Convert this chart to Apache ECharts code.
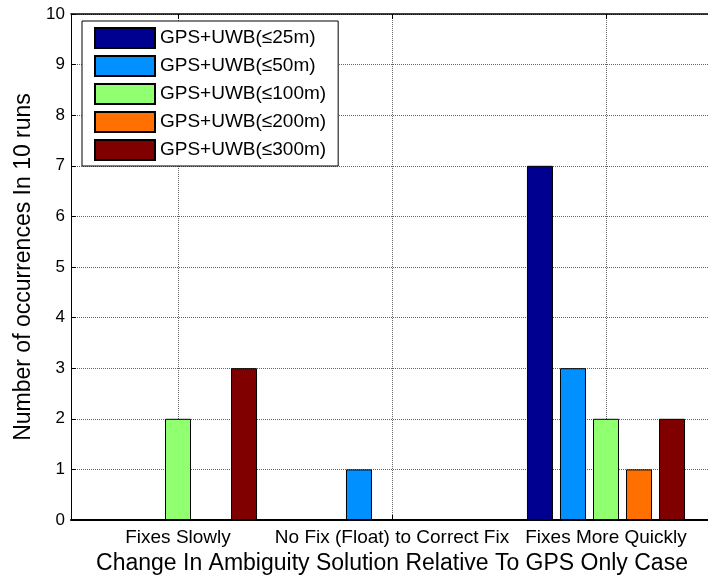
<!DOCTYPE html>
<html>
<head>
<meta charset="utf-8">
<script src="https://cdn.jsdelivr.net/npm/echarts@6/dist/echarts.min.js"></script>
<style>html,body{margin:0;padding:0;background:#fff;}#c{width:708px;height:581px;}</style>
</head>
<body>
<div id="c"></div>
<script>
const categories = ['Fixes Slowly', 'No Fix (Float) to Correct Fix', 'Fixes More Quickly'];
const seriesNames = ['GPS+UWB(≤25m)', 'GPS+UWB(≤50m)', 'GPS+UWB(≤100m)', 'GPS+UWB(≤200m)', 'GPS+UWB(≤300m)'];
const seriesColors = ['#000090', '#0090FF', '#90FF70', '#FF7000', '#800000'];
const v25 = [0, 0, 7];
const v50 = [0, 1, 3];
const v100 = [2, 0, 2];
const v200 = [0, 0, 1];
const v300 = [3, 0, 2];
const yTicks = [0,1,2,3,4,5,6,7,8,9,10];
const xTitle = 'Change In Ambiguity Solution Relative To GPS Only Case';
const yTitle = 'Number of occurrences In 10 runs';

const values = [v25, v50, v100, v200, v300];
const font = 'Liberation Sans, Arial, Helvetica, sans-serif';
const gridCats = ['', 'a', '', 'b', '', 'c', ''];

const chart = echarts.init(document.getElementById('c'), null, {renderer: 'canvas'});
chart.setOption({
  animation: false,
  backgroundColor: '#fff',
  grid: {left: 71, top: 14, width: 642, height: 506, containLabel: false, outerBoundsMode: 'none'},
  legend: {
    orient: 'vertical', left: 82, top: 21,
    padding: [6, 12, 5, 12],
    itemWidth: 60, itemHeight: 20, itemGap: 6,
    backgroundColor: '#fff', borderColor: '#000', borderWidth: 1,
    icon: 'rect',
    textStyle: {fontFamily: font, fontSize: 19, lineHeight: 20, color: '#000'},
    data: seriesNames
  },
  xAxis: [
    {
      type: 'category', data: categories, position: 'bottom',
      axisLine: {show: true, lineStyle: {color: '#000', width: 2}},
      axisTick: {show: true, inside: true, alignWithLabel: true, length: 5, lineStyle: {color: '#000'}},
      axisLabel: {interval: 0, fontFamily: font, fontSize: 19, color: '#000', margin: 8},
      splitLine: {show: false},
      name: xTitle, nameLocation: 'middle', nameGap: 31,
      nameTextStyle: {fontFamily: font, fontSize: 23, color: '#000'}
    },
    {
      type: 'category', data: categories, position: 'top',
      axisLine: {show: true, lineStyle: {color: '#000', width: 1.5}},
      axisTick: {show: true, inside: true, alignWithLabel: true, length: 5, lineStyle: {color: '#000'}},
      axisLabel: {show: false}, splitLine: {show: false}
    },
    {
      type: 'category', data: gridCats, position: 'bottom', boundaryGap: false,
      axisLine: {show: false}, axisTick: {show: false}, axisLabel: {show: false},
      splitLine: {show: true, interval: function (i) { return i % 2 === 1; },
        lineStyle: {color: '#666', width: 1, type: [1, 1]}}
    }
  ],
  yAxis: {
    type: 'value', min: 0, max: 10, interval: 1,
    axisLine: {show: true, lineStyle: {color: '#000', width: 1}},
    axisTick: {show: true, inside: true, length: 5, lineStyle: {color: '#000'}},
    axisLabel: {fontFamily: font, fontSize: 17, color: '#000', margin: 6,
      formatter: function (v) { return yTicks.indexOf(v) >= 0 ? String(v) : ''; }},
    splitLine: {show: true, lineStyle: {color: '#666', width: 1, type: [1, 1]}},
    name: yTitle, nameLocation: 'middle', nameGap: 36,
    nameTextStyle: {fontFamily: font, fontSize: 23, color: '#000'}
  },
  series: seriesNames.map(function (n, i) {
    return {
      name: n, type: 'bar', xAxisIndex: 0, data: values[i],
      barWidth: 26, barGap: '27%',
      itemStyle: {color: seriesColors[i], borderColor: '#000', borderWidth: 1}
    };
  })
});
</script>
</body>
</html>
